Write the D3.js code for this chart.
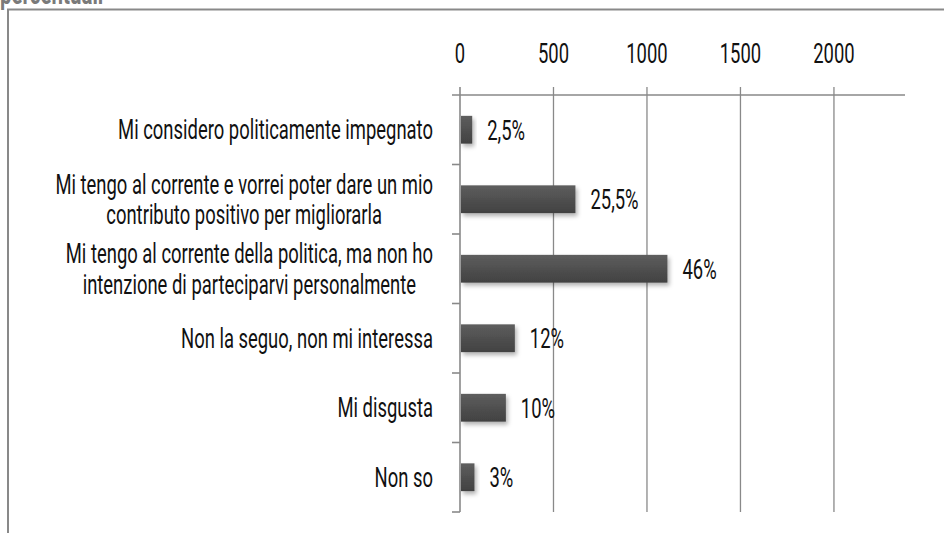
<!DOCTYPE html>
<html>
<head>
<meta charset="utf-8">
<script src="https://cdn.jsdelivr.net/npm/d3@7"></script>
<style>
  html, body { margin: 0; padding: 0; background: #fff; }
  svg { display: block; }
  text { font-family: Roboto, "Liberation Sans", sans-serif; }
</style>
</head>
<body>
<svg id="chart" width="944" height="533"></svg>
<script>
// ---- data ----
const title = "percentuali";
const categories = [
  ["Mi considero politicamente impegnato"],
  ["Mi tengo al corrente e vorrei poter dare un mio", "contributo positivo per migliorarla"],
  ["Mi tengo al corrente della politica, ma non ho", "intenzione di parteciparvi personalmente"],
  ["Non la seguo, non mi interessa"],
  ["Mi disgusta"],
  ["Non so"]
];
const values = [60, 612, 1104, 288, 240, 72];
const valueLabels = ["2,5%", "25,5%", "46%", "12%", "10%", "3%"];
const tickValues = [0, 500, 1000, 1500, 2000];
const axisMax = 2380;

// ---- layout ----
const svg = d3.select("#chart");
const plot = { left: 460, right: 905, top: 95, bottom: 512 };
const gray = "#898989";
const fontSize = 27;

const x = d3.scaleLinear().domain([0, axisMax]).range([plot.left, plot.right]);
const y = d3.scaleBand().domain(d3.range(categories.length))
  .range([plot.top, plot.bottom]).paddingInner(0.6).paddingOuter(0.3);

// horizontal compression factor for the condensed look
const probe = svg.append("text").attr("font-size", fontSize).text(categories[0][0]);
const sx = 315 / probe.node().getComputedTextLength();
probe.remove();

const defs = svg.append("defs");
const grad = defs.append("linearGradient").attr("id", "barGrad")
  .attr("x1", 0).attr("y1", 0).attr("x2", 0).attr("y2", 1);
grad.append("stop").attr("offset", "0%").attr("stop-color", "#5e5e5e");
grad.append("stop").attr("offset", "100%").attr("stop-color", "#414141");
const f = defs.append("filter").attr("id", "shadow")
  .attr("x", "-20%").attr("y", "-30%").attr("width", "160%").attr("height", "180%");
f.append("feDropShadow").attr("dx", 2).attr("dy", 3).attr("stdDeviation", 2)
  .attr("flood-color", "#000").attr("flood-opacity", 0.3);

// frame + title (cut off at the top edge, as in the original)
svg.append("text")
  .attr("transform", `translate(0,4) scale(${sx},1)`)
  .attr("font-size", 30).attr("font-weight", "bold").attr("fill", "#7a7a7a")
  .text(title);
svg.append("line").attr("x1", 7).attr("x2", 944).attr("y1", 9.5).attr("y2", 9.5)
  .attr("stroke", gray).attr("stroke-width", 2);
svg.append("line").attr("x1", 8).attr("x2", 8).attr("y1", 9).attr("y2", 533)
  .attr("stroke", gray).attr("stroke-width", 2);

// gridlines (with ticks above axis)
svg.append("g").selectAll("line").data(tickValues.filter(d => d > 0)).join("line")
  .attr("x1", d => x(d)).attr("x2", d => x(d))
  .attr("y1", plot.top - 8).attr("y2", plot.bottom)
  .attr("stroke", gray).attr("stroke-width", 1.3);

// top axis line
svg.append("line").attr("x1", plot.left - 8).attr("x2", plot.right)
  .attr("y1", plot.top).attr("y2", plot.top)
  .attr("stroke", gray).attr("stroke-width", 1.6);
svg.append("line").attr("x1", x(0)).attr("x2", x(0))
  .attr("y1", plot.top - 8).attr("y2", plot.top)
  .attr("stroke", gray).attr("stroke-width", 1.6);

// tick labels
svg.append("g").selectAll("text").data(tickValues).join("text")
  .attr("transform", d => `translate(${x(d)},63) scale(${sx},1)`)
  .attr("text-anchor", "middle").attr("font-size", fontSize).attr("fill", "#111")
  .text(d => d);

// category axis
svg.append("line").attr("x1", plot.left).attr("x2", plot.left)
  .attr("y1", plot.top).attr("y2", plot.bottom)
  .attr("stroke", gray).attr("stroke-width", 1.6);
const step = y.step();
svg.append("g").selectAll("line").data(d3.range(1, categories.length + 1)).join("line")
  .attr("x1", plot.left - 8).attr("x2", plot.left)
  .attr("y1", i => plot.top + i * step).attr("y2", i => plot.top + i * step)
  .attr("stroke", gray).attr("stroke-width", 1.6);

// bars
svg.append("g").selectAll("rect").data(values).join("rect")
  .attr("x", x(0) + 1).attr("y", (d, i) => y(i))
  .attr("width", d => x(d) - x(0)).attr("height", y.bandwidth())
  .attr("fill", "url(#barGrad)").attr("filter", "url(#shadow)");

// value labels
svg.append("g").selectAll("text").data(values).join("text")
  .attr("transform", (d, i) => `translate(${x(d) + 16},${y(i) + y.bandwidth() / 2 + 10}) scale(${sx},1)`)
  .attr("font-size", fontSize).attr("fill", "#111")
  .text((d, i) => valueLabels[i]);

// category labels
const catG = svg.append("g");
categories.forEach((lines, i) => {
  const c = y(i) + y.bandwidth() / 2;
  const maxW = d3.max(lines, l => {
    const t = catG.append("text").attr("font-size", fontSize).text(l);
    const w = t.node().getComputedTextLength() * sx;
    t.remove();
    return w;
  });
  const cx = 433 - maxW / 2;
  const base = lines.length === 1 ? [c + 9.5] : [c - 5.5, c + 25];
  lines.forEach((l, j) => {
    catG.append("text")
      .attr("transform", `translate(${cx},${base[j]}) scale(${sx},1)`)
      .attr("text-anchor", "middle").attr("font-size", fontSize).attr("fill", "#111")
      .text(l);
  });
});
</script>
</body>
</html>
